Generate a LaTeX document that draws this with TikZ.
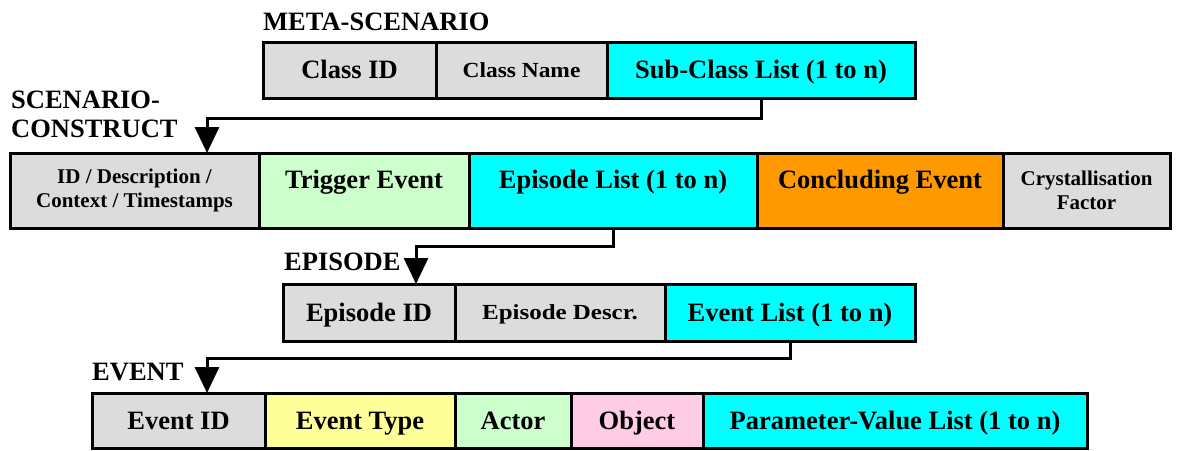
\documentclass[tikz,border=0pt]{standalone}
\usepackage{fontspec}
\usepackage{graphicx}
\setmainfont{Liberation Serif}
\usetikzlibrary{arrows.meta,calc}
\definecolor{cgray}{HTML}{DCDCDC}
\definecolor{ccyan}{HTML}{00FFFF}
\definecolor{cgreen}{HTML}{CCFFCC}
\definecolor{corange}{HTML}{FF9900}
\definecolor{cyellow}{HTML}{FFFF99}
\definecolor{cpink}{HTML}{FFCCE5}
\newcommand\bigtxt{\fontsize{26.5}{24}\selectfont\bfseries}
\newcommand\smalltxt{\fontsize{21}{23.5}\selectfont\bfseries}
\newcommand\slimtxt{\fontsize{21.5}{23}\selectfont\bfseries}
\begin{document}
\begin{tikzpicture}[x=1pt,y=-1pt,
  cell/.style={draw=black, line width=3pt, anchor=north west, inner sep=0pt,
    outer sep=0pt, font=\bigtxt, align=center},
  one/.style={text height=20pt, text depth=3pt},
  small/.style={font=\smalltxt},
  slim/.style={font=\slimtxt, text height=16pt, text depth=2pt},
  upper/.style={text height=18pt, text depth=22pt},
  title/.style={anchor=base west, inner sep=0pt, font=\bigtxt, align=left},
  conn/.style={line width=3pt, -{Triangle[width=24pt,length=26pt]}},
]
\useasboundingbox (0,0) rectangle (1180,450);

% META-SCENARIO
\node[title] (tmeta) at (263,30) {META-SCENARIO};
\node[cell, one, fill=cgray, minimum width=173pt, minimum height=56pt] (cid) at (263,42) {Class ID};
\node[cell, slim, fill=cgray, minimum width=171pt, minimum height=56pt] (cname) at (436,42) {\scalebox{1.09}[1]{Class Name}};
\node[cell, one, fill=ccyan, minimum width=308pt, minimum height=56pt] (sub) at (607,42) {Sub-Class List (1 to n)};

% SCENARIO-CONSTRUCT
\node[title] (tscen1) at (11,108) {SCENARIO-};
\node[title] (tscen2) at (11,137) {CONSTRUCT};
\node[cell, small, fill=cgray, minimum width=249pt, minimum height=75pt] (sid) at (10,153) {ID / Description /\\Context / Timestamps};
\node[cell, upper, fill=cgreen, minimum width=210pt, minimum height=75pt] (trig) at (259,153) {Trigger Event};
\node[cell, upper, fill=ccyan, minimum width=288pt, minimum height=75pt] (eplist) at (469,153) {Episode List (1 to n)};
\node[cell, upper, fill=corange, minimum width=246pt, minimum height=75pt] (conc) at (757,153) {Concluding Event};
\node[cell, small, fill=cgray, minimum width=167pt, minimum height=75pt] (cryst) at (1003,153) {Crystallisation\\Factor};

% EPISODE
\node[title] (tep) at (284,270) {EPISODE};
\node[cell, one, fill=cgray, minimum width=172pt, minimum height=57pt] (epid) at (283,284) {Episode ID};
\node[cell, slim, fill=cgray, minimum width=210pt, minimum height=57pt] (epdesc) at (455,284) {\scalebox{1.16}[1]{Episode Descr.}};
\node[cell, one, fill=ccyan, minimum width=250pt, minimum height=57pt] (evlist) at (665,284) {Event List (1 to n)};

% EVENT
\node[title] (tev) at (92,380) {EVENT};
\node[cell, one, fill=cgray, minimum width=173pt, minimum height=55pt] (evid) at (92,393) {Event ID};
\node[cell, one, fill=cyellow, minimum width=190pt, minimum height=55pt] (evtype) at (265,393) {Event Type};
\node[cell, one, fill=cgreen, minimum width=116pt, minimum height=55pt] (actor) at (455,393) {Actor};
\node[cell, one, fill=cpink, minimum width=132pt, minimum height=55pt] (obj) at (571,393) {Object};
\node[cell, one, fill=ccyan, minimum width=384pt, minimum height=55pt] (pvl) at (703,393) {Parameter-Value List (1 to n)};

% connectors
\coordinate (a1) at (207,153);
\coordinate (a2) at (416,284);
\coordinate (a3) at (207,393);
\draw[conn] (sub.south) -- (sub.south |- 0,118) -| (a1);
\draw[conn] (eplist.south) -- (eplist.south |- 0,246) -| (a2);
\draw[conn] (evlist.south) -- (evlist.south |- 0,358) -| (a3);
\end{tikzpicture}
\end{document}
